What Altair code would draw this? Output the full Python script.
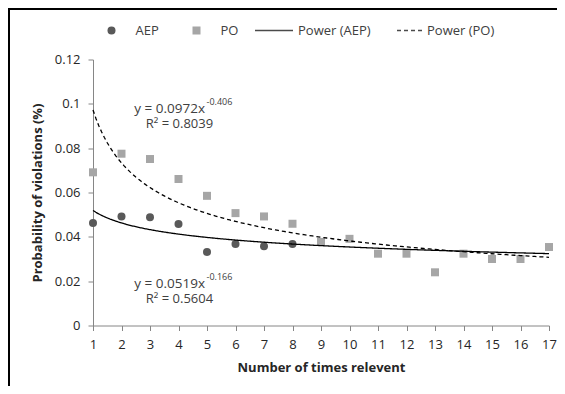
import altair as alt
import pandas as pd

# ---- data ----
x_all = list(range(1, 18))
aep_x = [1, 2, 3, 4, 5, 6, 7, 8]
aep_y = [0.0462, 0.0492, 0.0488, 0.0458, 0.0332, 0.0368, 0.0357, 0.0368]
po_y = [0.0691, 0.0775, 0.0751, 0.0661, 0.0585, 0.0507, 0.0492, 0.0459, 0.0377,
        0.0391, 0.0324, 0.0324, 0.0240, 0.0324, 0.0300, 0.0300, 0.0354]
pt_series = ["AEP", "PO"]
fit_series = ["Power (AEP)", "Power (PO)"]
fit_a = [0.0519, 0.0972]      # printed power-law coefficients
fit_b = [-0.166, -0.406]      # printed power-law exponents
eq_main = ["y = 0.0519x", "y = 0.0972x"]
eq_sup = ["-0.166", "-0.406"]
eq_r2 = ["R² = 0.5604", "R² = 0.8039"]
y_ticks = [0, 0.02, 0.04, 0.06, 0.08, 0.1, 0.12]

pts = pd.concat([
    pd.DataFrame({"x": aep_x, "y": aep_y, "series": pt_series[0]}),
    pd.DataFrame({"x": x_all, "y": po_y, "series": pt_series[1]}),
])

FONT = "Open Sans"
W, H = 456, 266

legend_pts = alt.Legend(
    title=None, orient="none", direction="horizontal",
    legendX=12, legendY=-36, padding=0, columnPadding=31, clipHeight=14,
    labelOffset=17.5, labelFont=FONT, labelFontSize=13, labelColor="#404040",
    symbolStrokeWidth=0, symbolSize=64,
)
legend_fit = alt.Legend(
    title=None, orient="none", direction="horizontal",
    legendX=161, legendY=-36, padding=0, columnPadding=25, clipHeight=14,
    labelOffset=4, labelFont=FONT, labelFontSize=13, labelColor="#404040",
    symbolType="stroke", symbolStrokeColor="black", symbolStrokeWidth=1.3,
)

xs = alt.X("x:Q", scale=alt.Scale(domain=[1, 17], nice=False, zero=False),
           axis=alt.Axis(values=x_all, format="d", title="Number of times relevent",
                         labelOverlap=False, labelFlush=False, labelPadding=7.5, titlePadding=10))
ys = alt.Y("y:Q", scale=alt.Scale(domain=[0, 0.12], nice=False),
           axis=alt.Axis(values=y_ticks, format=".2~f", title="Probability of violations (%)",
                         labelOverlap=False, labelFlush=False, labelPadding=8, titlePadding=10))

points = alt.Chart(pts).mark_point(filled=True, opacity=1, size=64).encode(
    x=xs, y=ys,
    color=alt.Color("series:N", scale=alt.Scale(domain=pt_series, range=["#595959", "#a6a6a6"]),
                    legend=legend_pts),
    shape=alt.Shape("series:N", scale=alt.Scale(domain=pt_series, range=["circle", "square"]),
                    legend=legend_pts),
)

fit_src = alt.Chart(alt.sequence(1, 17.001, 0.1, as_="x")).transform_calculate(
    **{
        fit_series[0]: f"{fit_a[0]} * pow(datum.x, {fit_b[0]})",
        fit_series[1]: f"{fit_a[1]} * pow(datum.x, {fit_b[1]})",
    }
).transform_fold(fit_series, as_=["fit", "y"])

fits = fit_src.mark_line(strokeWidth=1.3, color="black").encode(
    x=xs, y=ys,
    strokeDash=alt.StrokeDash("fit:N", scale=alt.Scale(domain=fit_series, range=[[1, 0], [4, 3]]),
                              legend=legend_fit),
)
# empty helper layer: only gives the line legend its two symbol lengths
fit_len = fit_src.transform_filter("datum.x > 1000").mark_point(
    shape="stroke", color="black", filled=False).encode(
    x=xs, y=ys,
    size=alt.Size("fit:N", scale=alt.Scale(type="ordinal", domain=fit_series, range=[1444, 625]),
                  legend=legend_fit),
)

one = alt.Data(values=[{}])
def txt(s, x, y, size=13, align="left"):
    return alt.Chart(one).mark_text(
        x=x, y=y, align=align, baseline="middle", font=FONT, fontSize=size, color="#404040"
    ).encode(text=alt.value(s))

ann = [
    txt(eq_main[1], 112, 49, size=13.5, align="right"), txt(eq_sup[1], 113.5, 42.5, size=9),
    txt(eq_r2[1], 86.5, 64, align="center"),
    txt(eq_main[0], 112, 224, size=13.5, align="right"), txt(eq_sup[0], 113.5, 217.5, size=9),
    txt(eq_r2[0], 86.5, 239, align="center"),
]

border_l = alt.Chart(one).mark_rule(color="black", strokeWidth=2).encode(
    x=alt.value(-84), y=alt.value(-52), y2=alt.value(400))
border_t = alt.Chart(one).mark_rule(color="black", strokeWidth=2).encode(
    x=alt.value(-85), x2=alt.value(500), y=alt.value(-50.5))

chart = alt.layer(points, fits, fit_len, *ann, border_l, border_t).properties(
    width=W, height=H,
    autosize=alt.AutoSizeParams(type="none"),
    padding={"left": 85, "top": 51.5, "right": 8, "bottom": 60},
).configure_view(stroke=None).configure_axis(
    grid=False, domainColor="#868686", tickColor="#868686", tickSize=5,
    labelFont=FONT, labelFontSize=13, labelColor="#262626",
    titleFont=FONT, titleFontSize=13, titleFontWeight="bold", titleColor="#262626",
)

chart.save("out.html", embed_options={"renderer": "svg", "actions": False})
